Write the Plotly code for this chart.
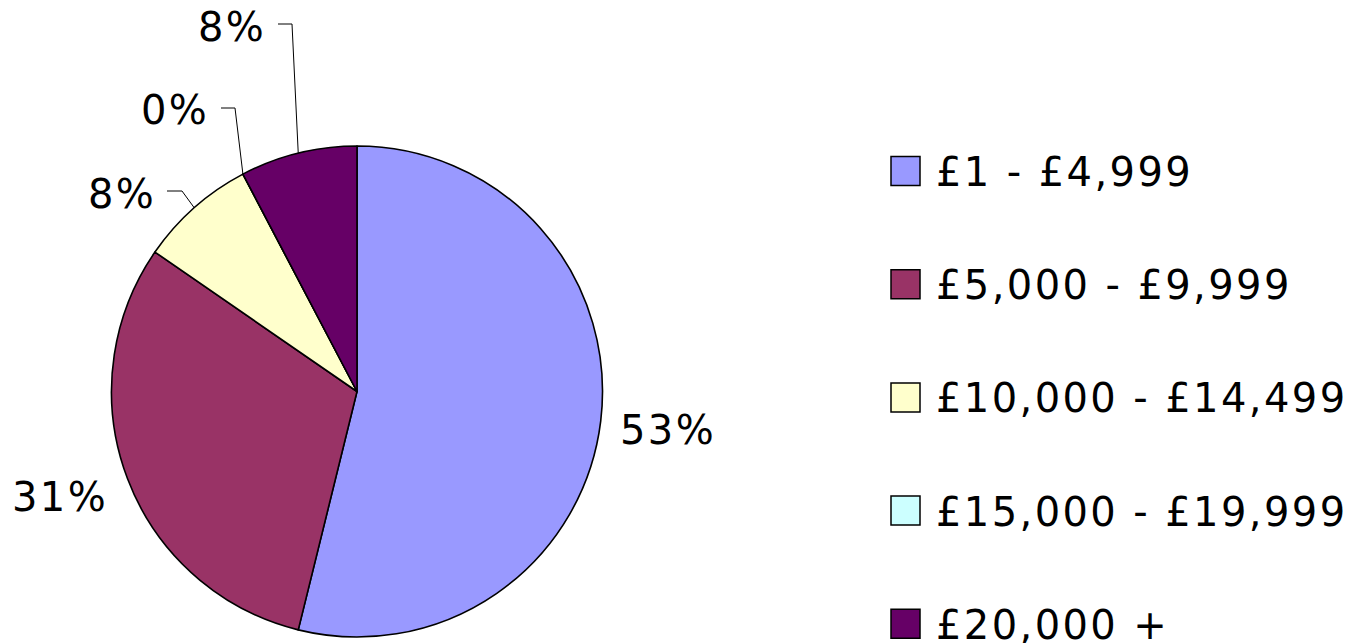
import math
import plotly.graph_objects as go

# ---- data ----
categories = ["£1 - £4,999", "£5,000 - £9,999", "£10,000 - £14,499",
              "£15,000 - £19,999", "£20,000 +"]
counts = [7, 4, 1, 0, 1]
pct_labels = ["53%", "31%", "8%", "0%", "8%"]
colors = ["#9999FF", "#993366", "#FFFFCC", "#CCFFFF", "#660066"]

# ---- layout constants (pixels) ----
W, H = 1355, 643
CX, CY, R = 357, 391.5, 245.5      # pie centre / radius
FONT = "DejaVu Sans, Verdana, sans-serif"
FS = 40
LS = "letter-spacing:2.4px"
# label text centres for each slice (pixels)
label_pos = [(668, 430), (60, 497), (122, 194), (175, 110), (232, 27)]
# leader line: (start x at label end, elbow x, y) ; None = no leader
leaders = [None, None, (167, 182, 191), (221, 235, 108), (278, 292, 24)]

LEG_X, LEG_Y0, LEG_DY, SW = 891, 171, 113.2, 29


def fx(x):
    return x / W


def fy(y):
    return 1 - y / H


total = sum(counts)

fig = go.Figure()
fig.add_trace(go.Pie(
    labels=categories, values=counts, sort=False, direction="clockwise",
    rotation=0, textinfo="none", hoverinfo="label+percent",
    marker=dict(colors=colors, line=dict(color="black", width=1.6)),
    showlegend=False,
    domain=dict(x=[fx(CX - R), fx(CX + R)], y=[fy(CY + R), fy(CY - R)]),
))

annotations = []
shapes = []
cum = 0
for i, c in enumerate(counts):
    mid = (cum + c / 2) / total * 2 * math.pi
    cum += c
    ax = CX + R * math.sin(mid)
    ay = CY - R * math.cos(mid)
    lx, ly = label_pos[i]
    annotations.append(dict(
        x=fx(lx), y=fy(ly), xref="paper", yref="paper",
        text=f'<span style="{LS}">{pct_labels[i]}</span>',
        showarrow=False, xanchor="center", yanchor="middle",
        font=dict(family=FONT, size=FS, color="black")))
    if leaders[i] is not None:
        x0, xe, yl = leaders[i]
        shapes.append(dict(
            type="path", xref="paper", yref="paper",
            path=f"M {fx(x0)},{fy(yl)} L {fx(xe)},{fy(yl)} L {fx(ax)},{fy(ay)}",
            line=dict(color="black", width=1)))

# legend drawn manually
for i, cat in enumerate(categories):
    yc = LEG_Y0 + i * LEG_DY
    shapes.append(dict(
        type="rect", xref="paper", yref="paper",
        x0=fx(LEG_X), x1=fx(LEG_X + SW), y0=fy(yc + SW / 2), y1=fy(yc - SW / 2),
        fillcolor=colors[i], line=dict(color="black", width=1.5)))
    annotations.append(dict(
        x=fx(LEG_X + SW + 14), y=fy(yc + 1), xref="paper", yref="paper",
        text=f'<span style="{LS}">{cat}</span>',
        showarrow=False, xanchor="left", yanchor="middle",
        font=dict(family=FONT, size=FS, color="black")))

fig.update_layout(
    width=W, height=H, autosize=False,
    margin=dict(l=0, r=0, t=0, b=0),
    paper_bgcolor="white", plot_bgcolor="white",
    annotations=annotations, shapes=shapes, showlegend=False,
)
fig.write_html("out.html",
               config={"displayModeBar": False},
               post_script="document.body.style.margin='0';"
                           "document.body.style.overflow='hidden';")
